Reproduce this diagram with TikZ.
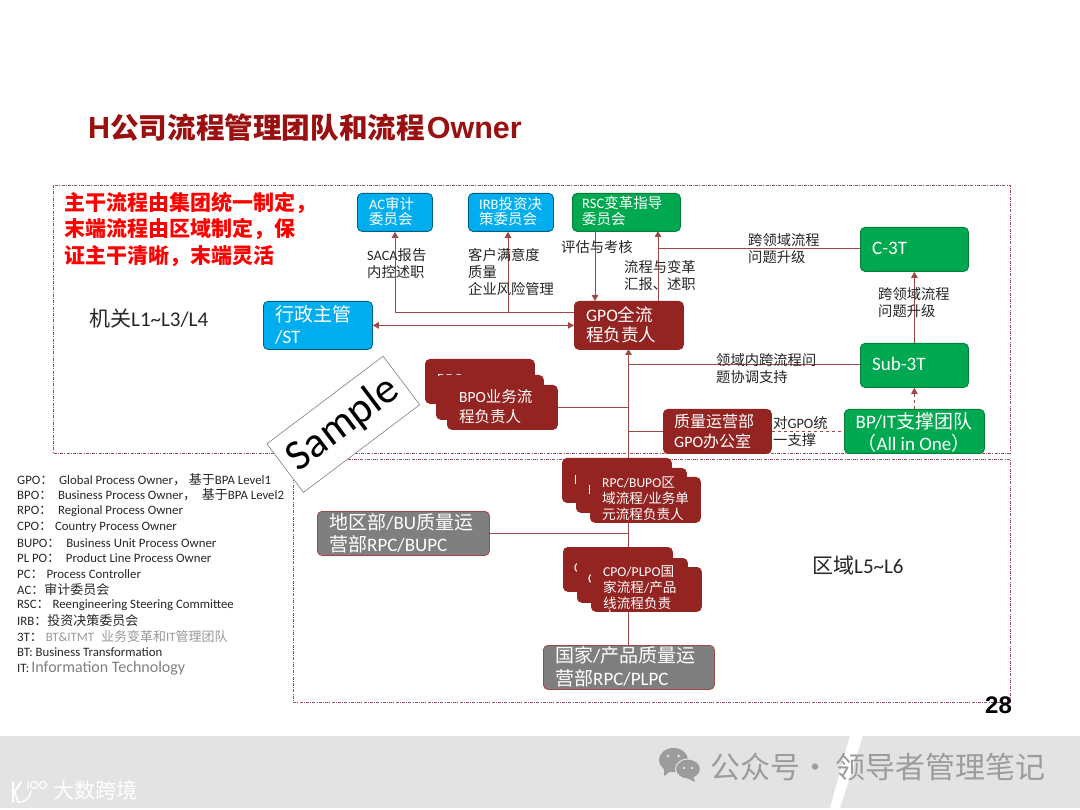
\documentclass[tikz,border=0pt]{standalone}
\usepackage{fontspec}
\setmainfont{Carlito}
\newfontfamily\cjk{Noto Sans CJK SC}
\newfontfamily\arialf{Liberation Sans}
\usetikzlibrary{arrows.meta,positioning,calc}
\newcommand{\zh}[1]{{\cjk #1}}
\newcommand{\fsz}[2]{\fontsize{#1}{#2}\selectfont}
\newcommand{\zl}[1]{{\fsz{13}{14}\cjk #1}}
\definecolor{conn}{HTML}{A04848}
\definecolor{dred}{HTML}{932422}
\definecolor{bblue}{HTML}{00AEEF}
\definecolor{bgreen}{HTML}{00A84F}
\definecolor{bgray}{HTML}{7F7F7F}
\definecolor{titlered}{HTML}{9A0F0F}
\definecolor{frame}{HTML}{A05060}
\definecolor{band}{HTML}{E3E3E3}
\definecolor{wm}{HTML}{9C9C9C}
\tikzset{
  x=1pt,y=-1pt,
  boxbase/.style={rectangle,rounded corners=4.5pt,anchor=north west,inner sep=0pt,line width=0.8pt},
  bluebox/.style={boxbase,fill=bblue,draw=black!45!bblue},
  greenbox/.style={boxbase,fill=bgreen,draw=black!25!bgreen},
  redbox/.style={boxbase,fill=dred,draw=dred},
  graybox/.style={boxbase,fill=bgray,draw=conn},
  wtext/.style={anchor=west,inner sep=0pt,text=white,align=left},
  lbl/.style={anchor=west,inner sep=0pt,text=black!85,align=left,font=\fsz{14.3}{17}},
  leg/.style={anchor=west,inner sep=0pt,text=black!85,font=\fsz{12.8}{14}},
  conline/.style={draw=conn,line width=0.9pt},
  arr/.style={conline,-{Triangle[length=6pt,width=6.5pt]}},
  darr/.style={conline,{Triangle[length=6pt,width=6.5pt]}-{Triangle[length=6pt,width=6.5pt]}},
  dasharr/.style={conline,dashed,-{Triangle[length=6pt,width=6.5pt]}},
  frameline/.style={draw=frame,line width=0.7pt,dash pattern=on 3pt off 1.2pt on 1pt off 1.2pt},
}
\newcommand{\bx}[6]{\node[#1,minimum width=#4-#2,minimum height=#5-#3] (#6) at (#2,#3) {};}
\begin{document}
\begin{tikzpicture}
\useasboundingbox (0,0) rectangle (1080,810);
\fill[white] (0,0) rectangle (1080,810);
% footer band
\fill[band] (0,735.5) rectangle (1080,808);
\fill[white] (850,735.5) -- (863,735.5) -- (840,808) -- (830,808) -- cycle;
% title
\node[anchor=west,inner sep=0pt,text=titlered] (title) at (88,127.5) {\fsz{30.5}{34}\bfseries\arialf H{\fsz{28.6}{34}\cjk 公司流程管理团队和流程}\kern2pt Owner};
% frames
\draw[frameline] (53,185) rectangle (1010,453);
\draw[frameline] (293,459) rectangle (1010,702);
% boxes
\bx{bluebox}{357}{193}{432}{231}{ac}
\bx{bluebox}{468}{193}{553}{231}{irb}
\bx{greenbox}{572}{193}{680}{231}{rsc}
\bx{greenbox}{860}{227}{968}{271}{c3t}
\bx{greenbox}{860}{343}{968}{387}{sub3t}
\bx{greenbox}{844}{409}{984}{453}{bpit}
\bx{redbox}{663}{409}{771}{453}{qa}
\bx{redbox}{574}{301}{683}{349}{gpo}
\bx{bluebox}{263}{301}{372}{349}{admin}
\bx{graybox}{317}{511}{489}{555}{regionqa}
\bx{graybox}{543}{645}{714}{689}{countryqa}
% connectors (behind stacked boxes)
\coordinate (jv1) at (395,312);
\coordinate (jv2) at (508,312);
\coordinate (jrsc1) at (595,231);
\coordinate (jrsc2) at (658,231);
\coordinate (jc) at (658,248.5);
\coordinate (jm) at (628.5,349);
\coordinate (jsub) at (628.5,364.5);
\coordinate (jbpo) at (628.5,407);
\coordinate (jqa) at (628.5,431);
\coordinate (jreg) at (628.5,533);
\draw[conline] (gpo.west |- jv1) -- (jv1);
\draw[arr] (jv1) -- (jv1 |- ac.south);
\draw[arr] (jv2) -- (jv2 |- irb.south);
\draw[darr] (admin.east) -- (gpo.west);
\draw[arr] (jrsc1) -- (jrsc1 |- gpo.north);
\draw[arr] (jrsc2 |- gpo.north) -- (jrsc2);
\draw[conline] (c3t.west |- jc) -- (jc);
\draw[arr] (sub3t.north) -- (c3t.south);
\draw[conline] (sub3t.west |- jsub) -- (jsub);
\draw[arr] (jm |- countryqa.north) -- (jm);
\draw[conline] (qa.west |- jqa) -- (jqa);
\draw[conline] (regionqa.east |- jreg) -- (jreg);
\draw[dasharr] (bpit.north) -- (sub3t.south);
\draw[conline,dashed] (qa.east) -- (bpit.west);
% stacks
\bx{redbox}{425}{359}{534}{403}{bpoa}
\node[wtext,font=\fsz{15.5}{20}] at (437,380) {BPO};
\bx{redbox}{436}{375}{543}{419}{bpob}
\node[wtext,font=\fsz{15.5}{20}] at (446,397) {B};
\bx{redbox}{447}{385}{557}{429}{bpo}
\draw[conline] (bpo.east |- jbpo) -- (jbpo);
\bx{redbox}{562}{458}{671}{502}{rpca}
\node[wtext,font=\fsz{14}{16}] at (574,480) {R};
\bx{redbox}{576}{468}{686}{512}{rpcb}
\node[wtext,font=\fsz{14}{16}] at (588,490) {R};
\bx{redbox}{590}{477}{700}{522}{rpc}
\bx{redbox}{563}{547}{672}{591}{cpoa}
\node[wtext,font=\fsz{14}{16}] at (574,568) {C};
\bx{redbox}{577}{558}{687}{602}{cpob}
\node[wtext,font=\fsz{14}{16}] at (588,579) {C};
\bx{redbox}{591}{567}{701}{611}{cpo}
% box text
\node[wtext,font=\fsz{14.5}{15.5}] at (369,211.5) {AC\zh{审计}\\[0pt]\zh{委员会}};
\node[wtext,font=\fsz{14.5}{15.5}] at (479,211.5) {IRB\zh{投资决}\\[0pt]\zh{策委员会}};
\node[wtext,font=\fsz{14.5}{15.5}] at (582,211) {RSC\zh{变革指导}\\[0pt]\zh{委员会}};
\node[wtext,font=\fsz{17.5}{20}] at (586,325) {GPO\zh{全流}\\\zh{程负责人}};
\node[wtext,font=\fsz{19}{22}] at (275,325) {\zh{行政主管}\\/ST};
\node[wtext,font=\fsz{19}{22}] at (872,248) {C-3T};
\node[wtext,font=\fsz{19}{22}] at (872,364) {Sub-3T};
\node[wtext,font=\fsz{19}{22},align=center,anchor=center] at (914,432) {BP/IT\zh{支撑团队}\\\zh{（}All in One\zh{）}};
\node[wtext,font=\fsz{16}{19.5}] at (674,431.5) {\zh{质量运营部}\\GPO\zh{办公室}};
\node[wtext,font=\fsz{15.5}{20}] at (459,407) {BPO\zh{业务流}\\\zh{程负责人}};
\node[wtext,font=\fsz{13.6}{16}] at (602,499) {RPC/BUPO\zh{区}\\\zh{域流程}/\zh{业务单}\\\zh{元流程负责人}};
\node[wtext,font=\fsz{13.6}{16}] at (603,588) {CPO/PLPO\zh{国}\\\zh{家流程}/\zh{产品}\\\zh{线流程负责}};
\node[wtext,font=\fsz{13.6}{16}] at (603,616) {\zh{人}};
\node[wtext,font=\fsz{19}{22}] at (329,533) {\zh{地区部}/BU\zh{质量运}\\\zh{营部}RPC/BUPC};
\node[wtext,font=\fsz{19}{22.5}] at (555,666.5) {\zh{国家}/\zh{产品质量运}\\\zh{营部}RPC/PLPC};
% labels
\node[lbl] at (367,264) {SACA\zh{报告}\\\zh{内控述职}};
\node[lbl] at (468,272) {\zh{客户满意度}\\\zh{质量}\\\zh{企业风险管理}};
\node[lbl] at (561,247) {\zh{评估与考核}};
\node[lbl] at (624,275.5) {\zh{流程与变革}\\\zh{汇报、述职}};
\node[lbl] at (748,248.5) {\zh{跨领域流程}\\\zh{问题升级}};
\node[lbl] at (878,302.5) {\zh{跨领域流程}\\\zh{问题升级}};
\node[lbl] at (716,368.5) {\zh{领域内跨流程问}\\\zh{题协调支持}};
\node[lbl] at (773,431.5) {\zh{对}GPO\zh{统}\\\zh{一支撑}};
\node[lbl,font=\fsz{21}{23}] at (89,319) {\zh{机关}L1\textasciitilde L3/L4};
\node[lbl,font=\fsz{21}{23}] at (812,566) {\zh{区域}L5\textasciitilde L6};
% red statement
\node[anchor=west,inner sep=0pt,align=left,text=red,font=\fsz{21}{26.5}\cjk\bfseries] (stmt) at (64,229.5) {主干流程由集团统一制定，\\末端流程由区域制定，保\\证主干清晰，末端灵活};
% sample stamp
\node[rectangle,rotate=37,fill=white,draw=black!50,line width=0.6pt,minimum width=145.6pt,minimum height=60.8pt,inner sep=0pt,font=\fsz{43}{46}] (sample) at (343.3,424.3) {Sample};
% legend
\node[leg] at (17,480) {GPO\zl{：}\ \ Global Process Owner\zl{，}\ \zl{基于}BPA Level1};
\node[leg] at (17,495) {BPO\zl{：}\ \ Business Process Owner\zl{，}\ \ \zl{基于}BPA Level2};
\node[leg] at (17,511) {RPO\zl{：}\ \ Regional Process Owner};
\node[leg] at (17,527) {CPO\zl{：}\ Country Process Owner};
\node[leg] at (17,543) {BUPO\zl{：}\ \ Business Unit Process Owner};
\node[leg] at (17,558) {PL PO\zl{：}\ \ Product Line Process Owner};
\node[leg] at (17,574) {PC\zl{：}\ Process Controller};
\node[leg] at (17,590) {AC\zl{：}\zl{审计委员会}};
\node[leg] at (17,605) {RSC\zl{：}\ Reengineering Steering Committee};
\node[leg] at (17,621) {IRB\zl{：}\zl{投资决策委员会}};
\node[leg] at (17,637) {3T\zl{：}\ \textcolor{black!40}{BT\&ITMT\hspace{7pt}\zl{业务变革和}IT\zl{管理团队}}};
\node[leg] at (17,652) {BT: Business Transformation};
\node[leg] at (17,668) {IT:\,\textcolor{black!50}{\fsz{16}{17}Information Technology}};
% page number
\node[anchor=center,inner sep=0pt,text=black,font=\fsz{24}{26}\arialf\bfseries] (pagenum) at (998.5,705) {28};
% footer watermark
\node[anchor=west,inner sep=0pt,text=wm,font=\fsz{30}{34}\cjk] (wmtext) at (710,767) {公众号·\kern5pt 领导者管理笔记};
\fill[wm] (673.5,760) ellipse [x radius=14.5,y radius=12];
\fill[wm] (664,768) -- (664,776) -- (671,771) -- cycle;
\fill[wm,draw=band,line width=1pt] (688,769) ellipse [x radius=12.5,y radius=10];
\fill[wm] (693,775) -- (695,782) -- (687,778) -- cycle;
\fill[band] (668,756) circle (1.5) (678.5,756) circle (1.5) (684,768) circle (1.3) (692,768) circle (1.3);
% logo
\draw[white,line width=1.8pt,line cap=round] (13,782) -- (13,802) (21,782) -- (14.5,792) -- (18,802);
\draw[white,line width=1.5pt,line cap=round] (18,802) .. controls (25,803) and (30,798) .. (31,791);
\draw[white,line width=1.2pt] (28,781) -- (28,789) (34,785) circle (3.6) (43,785) circle (3.6);
\node[anchor=west,inner sep=0pt,text=white,font=\fsz{21}{24}\cjk] (logotext) at (53.5,790) {大数跨境};
\end{tikzpicture}
\end{document}
